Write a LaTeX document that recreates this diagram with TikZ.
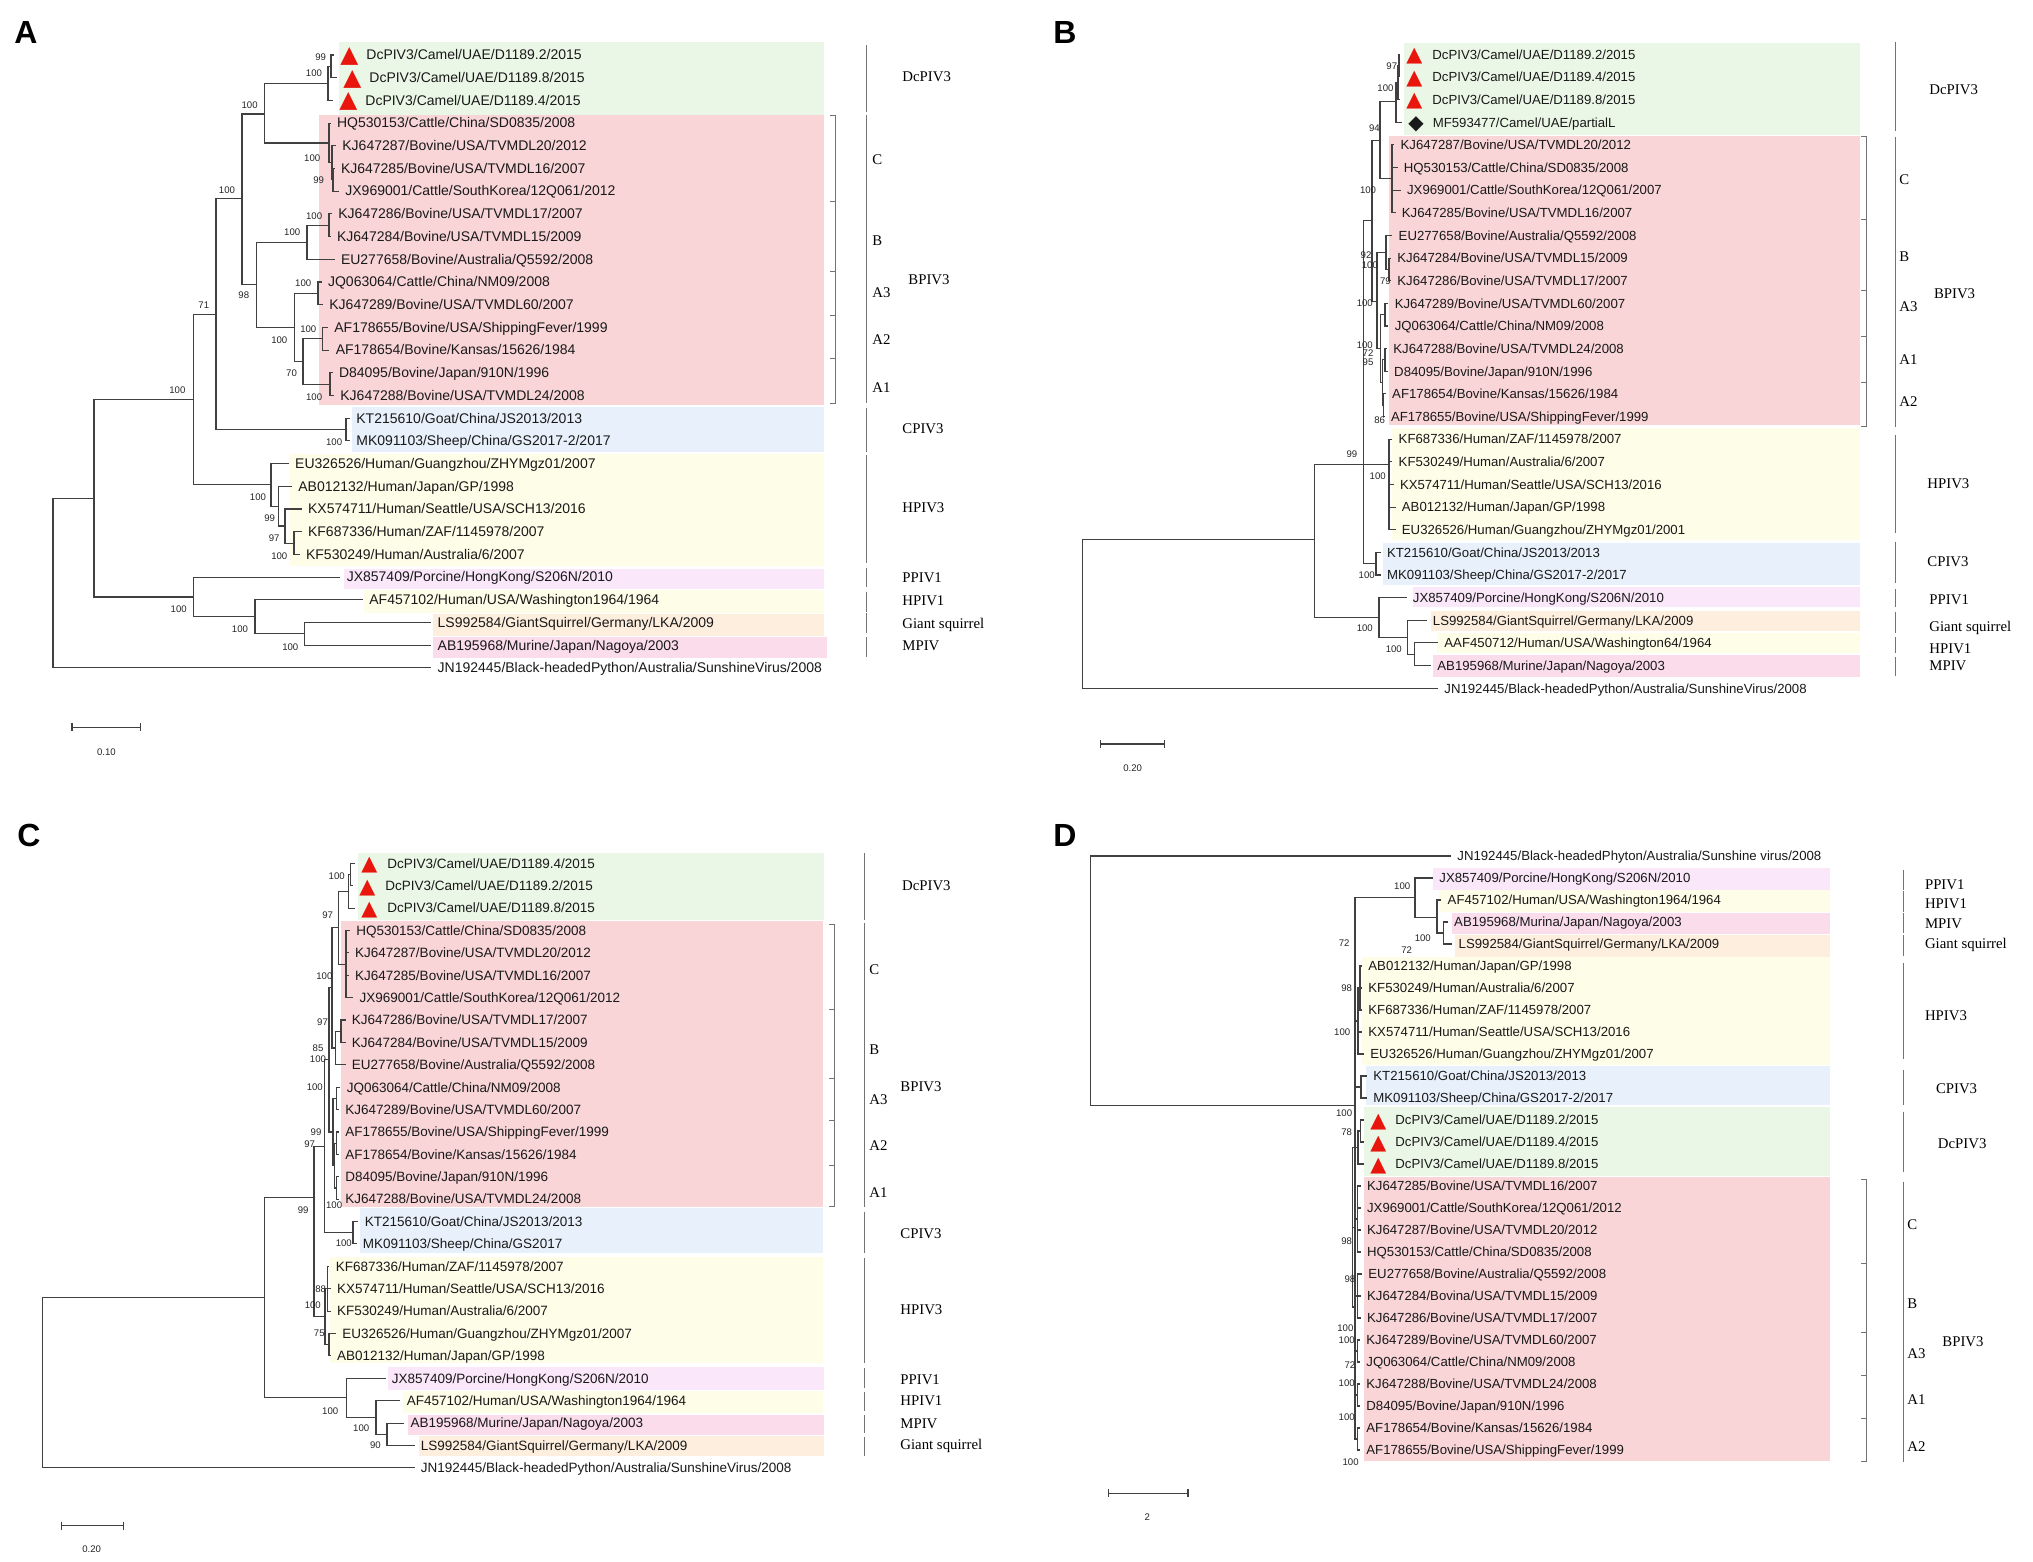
\documentclass[tikz,border=0pt]{standalone}
\usepackage{fontspec}
\setmainfont{Liberation Serif}
\newfontfamily\lsans{Liberation Sans}
\newfontfamily\dejavu{DejaVu Sans}
\definecolor{bxgreen}{RGB}{235,247,230}
\definecolor{bxred}{RGB}{249,213,215}
\definecolor{bxblue}{RGB}{232,241,251}
\definecolor{bxyellow}{RGB}{254,253,232}
\definecolor{bxlilac}{RGB}{250,231,250}
\definecolor{bxorange}{RGB}{253,238,222}
\definecolor{bxpink}{RGB}{250,220,234}
\definecolor{mkred}{RGB}{232,22,12}
\newcommand\trimk[2]{{\dejavu\fontsize{#1}{#1}\selectfont\color{mkred}\raisebox{-1.3pt}{▲}}\hspace{#2}}
\newcommand\dimk[2]{{\dejavu\fontsize{#1}{#1}\selectfont\raisebox{-1.3pt}{◆}}\hspace{#2}}
\tikzset{br/.style={draw=black!75, line width=0.55pt},
	gl/.style={draw=black!55, line width=0.5pt},
	bnode/.style={inner sep=0pt, outer sep=0pt, minimum size=0pt},
	leaf/.style={anchor=west, inner xsep=3pt, inner ysep=0pt, text height=4.8pt, text depth=0pt, text=black!90, font=\lsans\fontsize{#1}{#1}\selectfont},
	leaf/.default=7,
	boot/.style={inner sep=0pt, text=black!85, font=\lsans\fontsize{4.8}{4.8}\selectfont},
	clade/.style={anchor=west, inner sep=0pt, text height=4.9pt, text depth=0pt, font=\fontsize{7.4}{7.4}\selectfont},
	letter/.style={inner sep=0pt, font=\lsans\bfseries\fontsize{16}{16}\selectfont}}

\begin{document}
\begin{tikzpicture}[x=0.5pt,y=-0.5pt]
\useasboundingbox (0,0) rectangle (2033,1562);
\fill[white] (0,0) rectangle (2033,1562);

\foreach \xa/\ya/\xb/\yb/\c in {339/41.7/824/115/bxgreen, 319/115/824/405/bxred, 351.5/407.3/824/452.3/bxblue, 290/454.3/824/566/bxyellow, 343.8/569.3/824/589.3/bxlilac, 364.4/590/824/612.7/bxyellow, 433.4/614/824/636/bxorange, 433.4/636.7/827/657.7/bxpink,
  1403.5/43.3/1859.5/135/bxgreen, 1389.3/135.7/1859.5/425/bxred, 1391.8/428.3/1859.5/540/bxyellow, 1382.8/542.7/1859.5/585/bxblue, 1413/587.3/1859.5/607.3/bxlilac, 1430.5/610.7/1859.5/630.7/bxorange, 1437/632.7/1859.5/653.3/bxyellow, 1432.5/655/1859.5/676.7/bxpink,
  358/853.3/824/920/bxgreen, 341/921/823/1206.7/bxred, 360/1207.7/823/1253.3/bxblue, 330/1257.3/823/1363.3/bxyellow, 388/1366.7/824/1390/bxlilac, 403/1390.7/823/1412.7/bxyellow, 407.6/1415/824/1435/bxpink, 419/1436/824/1456/bxorange,
  1432.5/868.3/1830.4/890/bxlilac, 1439/890/1830.4/911.7/bxyellow, 1451.8/912.7/1830.4/934/bxpink, 1455/935/1830.4/956.7/bxorange, 1361.5/957.3/1830.4/1065/bxyellow, 1366/1065.7/1830.4/1105/bxblue, 1363.5/1106.7/1830.4/1176/bxgreen, 1363.5/1176.7/1830.4/1460.7/bxred}
  \fill[\c] (\xa,\ya) rectangle (\xb,\yb);

\node[letter] (labA) at (26,32) {A};
\node[letter] (labB) at (1065,32) {B};
\node[letter] (labC) at (29,835) {C};
\node[letter] (labD) at (1065,835) {D};

\begin{scope}[yshift=-16.15pt,y=-11.35pt]
\node[bnode] (aR) at (53,24.26) {};
\node[bnode] (aI) at (94,20.53) {};
\node[bnode] (aB1) at (193.5,16.18) {};
\node[bnode] (a71) at (216,12.42) {};
\node[bnode] (a100) at (242,7.34) {};
\node[bnode] (aDC) at (264.5,3.6) {};
\node[bnode] (aD) at (328,2.25) {};
\node[bnode] (aD12) at (331,1.5) {};
\node[bnode] (aC) at (329,4.875) {};
\node[bnode] (aC2) at (332,5.75) {};
\node[bnode] (aC3) at (333,6.5) {};
\node[bnode] (a98) at (256.7,11.125) {};
\node[bnode] (aB) at (307,9.25) {};
\node[bnode] (aB2) at (329,8.5) {};
\node[bnode] (aA) at (294.8,13) {};
\node[bnode] (aA3) at (318,11.5) {};
\node[bnode] (aA12) at (303,14.5) {};
\node[bnode] (aA2) at (322.5,13.5) {};
\node[bnode] (aA1) at (330,15.5) {};
\node[bnode] (aCP) at (346,17.5) {};
\node[bnode] (aH) at (271,19.94) {};
\node[bnode] (aH2) at (278.6,20.875) {};
\node[bnode] (aH3) at (285,21.75) {};
\node[bnode] (aH4) at (294,22.5) {};
\node[bnode] (aP) at (193.5,24.875) {};
\node[bnode] (aH1) at (255,25.75) {};
\node[bnode] (aGS) at (304.4,26.5) {};
\node[leaf=7] (a1) at (334,1) {\trimk{11.7}{4pt}DcPIV3/Camel/UAE/D1189.2/2015};
\node[leaf=7] (a2) at (337,2) {\trimk{11.7}{4pt}DcPIV3/Camel/UAE/D1189.8/2015};
\node[leaf=7] (a3) at (333,3) {\trimk{11.7}{4pt}DcPIV3/Camel/UAE/D1189.4/2015};
\node[leaf=7] (a4) at (330.7,4) {HQ530153/Cattle/China/SD0835/2008};
\node[leaf=7] (a5) at (336,5) {KJ647287/Bovine/USA/TVMDL20/2012};
\node[leaf=7] (a6) at (334.6,6) {KJ647285/Bovine/USA/TVMDL16/2007};
\node[leaf=7] (a7) at (339,7) {JX969001/Cattle/SouthKorea/12Q061/2012};
\node[leaf=7] (a8) at (332,8) {KJ647286/Bovine/USA/TVMDL17/2007};
\node[leaf=7] (a9) at (330.7,9) {KJ647284/Bovine/USA/TVMDL15/2009};
\node[leaf=7] (a10) at (334.6,10) {EU277658/Bovine/Australia/Q5592/2008};
\node[leaf=7] (a11) at (321.7,11) {JQ063064/Cattle/China/NM09/2008};
\node[leaf=7] (a12) at (323,12) {KJ647289/Bovine/USA/TVMDL60/2007};
\node[leaf=7] (a13) at (328,13) {AF178655/Bovine/USA/ShippingFever/1999};
\node[leaf=7] (a14) at (329.4,14) {AF178654/Bovine/Kansas/15626/1984};
\node[leaf=7] (a15) at (332.6,15) {D84095/Bovine/Japan/910N/1996};
\node[leaf=7] (a16) at (334,16) {KJ647288/Bovine/USA/TVMDL24/2008};
\node[leaf=7] (a17) at (350,17) {KT215610/Goat/China/JS2013/2013};
\node[leaf=7] (a18) at (350,18) {MK091103/Sheep/China/GS2017-2/2017};
\node[leaf=7] (a19) at (288.8,19) {EU326526/Human/Guangzhou/ZHYMgz01/2007};
\node[leaf=7] (a20) at (292,20) {AB012132/Human/Japan/GP/1998};
\node[leaf=7] (a21) at (301.7,21) {KX574711/Human/Seattle/USA/SCH13/2016};
\node[leaf=7] (a22) at (301.7,22) {KF687336/Human/ZAF/1145978/2007};
\node[leaf=7] (a23) at (299.7,23) {KF530249/Human/Australia/6/2007};
\node[leaf=7] (a24) at (340.4,24) {JX857409/Porcine/HongKong/S206N/2010};
\node[leaf=7] (a25) at (363,25) {AF457102/Human/USA/Washington1964/1964};
\node[leaf=7] (a26) at (431.3,26) {LS992584/GiantSquirrel/Germany/LKA/2009};
\node[leaf=7] (a27) at (431.3,27) {AB195968/Murine/Japan/Nagoya/2003};
\node[leaf=7] (a28) at (431.3,28) {JN192445/Black-headedPython/Australia/SunshineVirus/2008};
\foreach \p/\c in {aR/aI, aR/a28, aI/aB1, aI/aP, aB1/a71, aB1/aH, a71/a100, a71/aCP, a100/aDC, a100/a98,
  aDC/aD, aDC/aC, aD/aD12, aD/a3, aD12/a1, aD12/a2, aC/a4, aC/aC2, aC2/a5, aC2/aC3, aC3/a6, aC3/a7,
  a98/aB, a98/aA, aB/aB2, aB/a10, aB2/a8, aB2/a9, aA/aA3, aA/aA12, aA3/a11, aA3/a12,
  aA12/aA2, aA12/aA1, aA2/a13, aA2/a14, aA1/a15, aA1/a16, aCP/a17, aCP/a18,
  aH/a19, aH/aH2, aH2/a20, aH2/aH3, aH3/a21, aH3/aH4, aH4/a22, aH4/a23,
  aP/a24, aP/aH1, aH1/a25, aH1/aGS, aGS/a26, aGS/a27}
  \draw[br] (\p) |- (\c.west);
\end{scope}

\begin{scope}[yshift=-15.83pt,y=-11.32pt]
\node[bnode] (bR) at (1082.9,25) {};
\node[bnode] (bI) at (1314.4,22.45) {};
\node[bnode] (b99) at (1363.5,19.11) {};
\node[bnode] (bU) at (1372,8.35) {};
\node[bnode] (b94) at (1380,4.8) {};
\node[bnode] (bD) at (1396,3.1) {};
\node[bnode] (bD123) at (1398,2.25) {};
\node[bnode] (bD12) at (1399,1.5) {};
\node[bnode] (bC) at (1392,6.5) {};
\node[bnode] (bBA) at (1377,11.9) {};
\node[bnode] (bB) at (1386,9.75) {};
\node[bnode] (bB11) at (1389,10.5) {};
\node[bnode] (bA) at (1380.5,14) {};
\node[bnode] (bA3) at (1385,12.5) {};
\node[bnode] (bA12) at (1382.5,15.5) {};
\node[bnode] (bA1) at (1385,14.5) {};
\node[bnode] (bA2) at (1383.5,16.5) {};
\node[bnode] (bH3) at (1389,19.11) {};
\node[bnode] (bCP) at (1376,23.5) {};
\node[bnode] (bP) at (1379,25.875) {};
\node[bnode] (bSQ) at (1407.3,26.75) {};
\node[bnode] (bHM) at (1414.4,27.5) {};
\node[leaf=6.6] (b1) at (1400,1) {\trimk{10.4}{5pt}DcPIV3/Camel/UAE/D1189.2/2015};
\node[leaf=6.6] (b2) at (1400,2) {\trimk{10.4}{5pt}DcPIV3/Camel/UAE/D1189.4/2015};
\node[leaf=6.6] (b3) at (1400,3) {\trimk{10.4}{5pt}DcPIV3/Camel/UAE/D1189.8/2015};
\node[leaf=6.6] (b4) at (1402,4) {\dimk{10}{4.5pt}MF593477/Camel/UAE/partialL};
\node[leaf=6.6] (b5) at (1394.2,5) {KJ647287/Bovine/USA/TVMDL20/2012};
\node[leaf=6.6] (b6) at (1397.5,6) {HQ530153/Cattle/China/SD0835/2008};
\node[leaf=6.6] (b7) at (1400.7,7) {JX969001/Cattle/SouthKorea/12Q061/2007};
\node[leaf=6.6] (b8) at (1395.5,8) {KJ647285/Bovine/USA/TVMDL16/2007};
\node[leaf=6.6] (b9) at (1392.3,9) {EU277658/Bovine/Australia/Q5592/2008};
\node[leaf=6.6] (b10) at (1391,10) {KJ647284/Bovine/USA/TVMDL15/2009};
\node[leaf=6.6] (b11) at (1391,11) {KJ647286/Bovine/USA/TVMDL17/2007};
\node[leaf=6.6] (b12) at (1388.4,12) {KJ647289/Bovine/USA/TVMDL60/2007};
\node[leaf=6.6] (b13) at (1388.4,13) {JQ063064/Cattle/China/NM09/2008};
\node[leaf=6.6] (b14) at (1387,14) {KJ647288/Bovine/USA/TVMDL24/2008};
\node[leaf=6.6] (b15) at (1387.8,15) {D84095/Bovine/Japan/910N/1996};
\node[leaf=6.6] (b16) at (1385.8,16) {AF178654/Bovine/Kansas/15626/1984};
\node[leaf=6.6] (b17) at (1384.6,17) {AF178655/Bovine/USA/ShippingFever/1999};
\node[leaf=6.6] (b18) at (1392.3,18) {KF687336/Human/ZAF/1145978/2007};
\node[leaf=6.6] (b19) at (1392.3,19) {KF530249/Human/Australia/6/2007};
\node[leaf=6.6] (b20) at (1393.6,20) {KX574711/Human/Seattle/USA/SCH13/2016};
\node[leaf=6.6] (b21) at (1395.5,21) {AB012132/Human/Japan/GP/1998};
\node[leaf=6.6] (b22) at (1395.5,22) {EU326526/Human/Guangzhou/ZHYMgz01/2001};
\node[leaf=6.6] (b23) at (1380.7,23) {KT215610/Goat/China/JS2013/2013};
\node[leaf=6.6] (b24) at (1380.7,24) {MK091103/Sheep/China/GS2017-2/2017};
\node[leaf=6.6] (b25) at (1406.5,25) {JX857409/Porcine/HongKong/S206N/2010};
\node[leaf=6.6] (b26) at (1426.5,26) {LS992584/GiantSquirrel/Germany/LKA/2009};
\node[leaf=6.6] (b27) at (1438,27) {AAF450712/Human/USA/Washington64/1964};
\node[leaf=6.6] (b28) at (1431,28) {AB195968/Murine/Japan/Nagoya/2003};
\node[leaf=6.6] (b29) at (1438,29) {JN192445/Black-headedPython/Australia/SunshineVirus/2008};
\foreach \p/\c in {bR/bI, bR/b29, bI/b99, bI/bP, b99/bU, b99/bH3, b99/bCP, bU/b94, bU/bBA,
  b94/bD, b94/bC, bD/bD123, bD/b4, bD123/bD12, bD123/b3, bD12/b1, bD12/b2, bC/b5, bC/b6, bC/b7, bC/b8,
  bBA/bB, bBA/bA, bB/b9, bB/bB11, bB11/b10, bB11/b11, bA/bA3, bA/bA12, bA3/b12, bA3/b13,
  bA12/bA1, bA12/bA2, bA1/b14, bA1/b15, bA2/b16, bA2/b17,
  bH3/b18, bH3/b19, bH3/b20, bH3/b21, bH3/b22, bCP/b23, bCP/b24,
  bP/b25, bP/bSQ, bSQ/b26, bSQ/bHM, bHM/b27, bHM/b28}
  \draw[br] (\p) |- (\c.west);
\end{scope}

\begin{scope}[yshift=-420.455pt,y=-11.195pt]
\node[bnode] (cR) at (42.6,24) {};
\node[bnode] (cI) at (264.5,20.39) {};
\node[bnode] (c99) at (314,15.91) {};
\node[bnode] (c97) at (324.4,13.64) {};
\node[bnode] (cBP) at (329,9.78) {};
\node[bnode] (c100) at (332,6.56) {};
\node[bnode] (cDC) at (338.6,3.875) {};
\node[bnode] (cD) at (348.3,2.25) {};
\node[bnode] (cD12) at (350.5,1.5) {};
\node[bnode] (cC) at (346,5.5) {};
\node[bnode] (cB) at (335.4,9.25) {};
\node[bnode] (cB89) at (341,8.5) {};
\node[bnode] (cA) at (333,13) {};
\node[bnode] (cA3) at (336.5,11.5) {};
\node[bnode] (cA21) at (334.5,14.5) {};
\node[bnode] (cA2) at (336.5,13.5) {};
\node[bnode] (cA1) at (336.5,15.5) {};
\node[bnode] (cCP) at (353,17.5) {};
\node[bnode] (cH) at (325,21.25) {};
\node[bnode] (cH1) at (327.5,20) {};
\node[bnode] (cH2) at (329,22.5) {};
\node[bnode] (cP) at (346.4,24.87) {};
\node[bnode] (cQ) at (376,25.75) {};
\node[bnode] (cGS) at (387,26.5) {};
\node[leaf=6.75] (c1) at (355,1) {\trimk{10.4}{5pt}DcPIV3/Camel/UAE/D1189.4/2015};
\node[leaf=6.75] (c2) at (353,2) {\trimk{10.4}{5pt}DcPIV3/Camel/UAE/D1189.2/2015};
\node[leaf=6.75] (c3) at (355,3) {\trimk{10.4}{5pt}DcPIV3/Camel/UAE/D1189.8/2015};
\node[leaf=6.75] (c4) at (350,4) {HQ530153/Cattle/China/SD0835/2008};
\node[leaf=6.75] (c5) at (348.8,5) {KJ647287/Bovine/USA/TVMDL20/2012};
\node[leaf=6.75] (c6) at (348.8,6) {KJ647285/Bovine/USA/TVMDL16/2007};
\node[leaf=6.75] (c7) at (353.3,7) {JX969001/Cattle/SouthKorea/12Q061/2012};
\node[leaf=6.75] (c8) at (345.5,8) {KJ647286/Bovine/USA/TVMDL17/2007};
\node[leaf=6.75] (c9) at (345.5,9) {KJ647284/Bovine/USA/TVMDL15/2009};
\node[leaf=6.75] (c10) at (345.5,10) {EU277658/Bovine/Australia/Q5592/2008};
\node[leaf=6.75] (c11) at (340.4,11) {JQ063064/Cattle/China/NM09/2008};
\node[leaf=6.75] (c12) at (339,12) {KJ647289/Bovine/USA/TVMDL60/2007};
\node[leaf=6.75] (c13) at (339,13) {AF178655/Bovine/USA/ShippingFever/1999};
\node[leaf=6.75] (c14) at (339,14) {AF178654/Bovine/Kansas/15626/1984};
\node[leaf=6.75] (c15) at (339,15) {D84095/Bovine/Japan/910N/1996};
\node[leaf=6.75] (c16) at (339,16) {KJ647288/Bovine/USA/TVMDL24/2008};
\node[leaf=6.75] (c17) at (358.4,17) {KT215610/Goat/China/JS2013/2013};
\node[leaf=6.75] (c18) at (356.5,18) {MK091103/Sheep/China/GS2017};
\node[leaf=6.75] (c19) at (329.4,19) {KF687336/Human/ZAF/1145978/2007};
\node[leaf=6.75] (c20) at (330.7,20) {KX574711/Human/Seattle/USA/SCH13/2016};
\node[leaf=6.75] (c21) at (330.7,21) {KF530249/Human/Australia/6/2007};
\node[leaf=6.75] (c22) at (335.9,22) {EU326526/Human/Guangzhou/ZHYMgz01/2007};
\node[leaf=6.75] (c23) at (330.7,23) {AB012132/Human/Japan/GP/1998};
\node[leaf=6.75] (c24) at (385.5,24) {JX857409/Porcine/HongKong/S206N/2010};
\node[leaf=6.75] (c25) at (400.4,25) {AF457102/Human/USA/Washington1964/1964};
\node[leaf=6.75] (c26) at (404.2,26) {AB195968/Murine/Japan/Nagoya/2003};
\node[leaf=6.75] (c27) at (414.5,27) {LS992584/GiantSquirrel/Germany/LKA/2009};
\node[leaf=6.75] (c28) at (414.5,28) {JN192445/Black-headedPython/Australia/SunshineVirus/2008};
\foreach \p/\c in {cR/cI, cR/c28, cI/c99, cI/cP, c99/c97, c99/cH, c97/cBP, c97/cCP, cBP/c100, cBP/cA,
  c100/cDC, c100/cB, cDC/cD, cDC/cC, cD/cD12, cD/c3, cD12/c1, cD12/c2, cC/c4, cC/c5, cC/c6, cC/c7,
  cB/cB89, cB/c10, cB89/c8, cB89/c9, cA/cA3, cA/cA21, cA3/c11, cA3/c12,
  cA21/cA2, cA21/cA1, cA2/c13, cA2/c14, cA1/c15, cA1/c16, cCP/c17, cCP/c18,
  cH/cH1, cH/cH2, cH1/c19, cH1/c20, cH1/c21, cH2/c22, cH2/c23,
  cP/c24, cP/cQ, cQ/c25, cQ/cGS, cGS/c26, cGS/c27}
  \draw[br] (\p) |- (\c.west);
\end{scope}

\begin{scope}[yshift=-417pt,y=-11pt]
\node[bnode] (dR) at (1090.6,6) {};
\node[bnode] (dI) at (1355,12.36) {};
\node[bnode] (dP) at (1415,2.89) {};
\node[bnode] (dH1) at (1437,3.79) {};
\node[bnode] (dMG) at (1443.4,4.5) {};
\node[bnode] (dH3) at (1358,8.5) {};
\node[bnode] (dH3a) at (1360,7) {};
\node[bnode] (dCP) at (1361,11.5) {};
\node[bnode] (dDB) at (1352.5,17.9) {};
\node[bnode] (dD) at (1358,14.25) {};
\node[bnode] (dD12) at (1360.5,13.5) {};
\node[bnode] (dBP) at (1355,21.5) {};
\node[bnode] (dC) at (1357.5,17.5) {};
\node[bnode] (dB) at (1357.5,21) {};
\node[bnode] (dA3) at (1357.5,23.5) {};
\node[bnode] (dA1) at (1357.5,25.5) {};
\node[bnode] (dA2) at (1357.5,27.5) {};
\node[leaf=6.6] (d1) at (1451,1) {JN192445/Black-headedPhyton/Australia/Sunshine virus/2008};
\node[leaf=6.6] (d2) at (1433,2) {JX857409/Porcine/HongKong/S206N/2010};
\node[leaf=6.6] (d3) at (1441.3,3) {AF457102/Human/USA/Washington1964/1964};
\node[leaf=6.6] (d4) at (1447.8,4) {AB195968/Murina/Japan/Nagoya/2003};
\node[leaf=6.6] (d5) at (1452.3,5) {LS992584/GiantSquirrel/Germany/LKA/2009};
\node[leaf=6.6] (d6) at (1362,6) {AB012132/Human/Japan/GP/1998};
\node[leaf=6.6] (d7) at (1362,7) {KF530249/Human/Australia/6/2007};
\node[leaf=6.6] (d8) at (1362,8) {KF687336/Human/ZAF/1145978/2007};
\node[leaf=6.6] (d9) at (1362,9) {KX574711/Human/Seattle/USA/SCH13/2016};
\node[leaf=6.6] (d10) at (1364,10) {EU326526/Human/Guangzhou/ZHYMgz01/2007};
\node[leaf=6.6] (d11) at (1367,11) {KT215610/Goat/China/JS2013/2013};
\node[leaf=6.6] (d12) at (1367,12) {MK091103/Sheep/China/GS2017-2/2017};
\node[leaf=6.6] (d13) at (1364,13) {\trimk{10.4}{4.5pt}DcPIV3/Camel/UAE/D1189.2/2015};
\node[leaf=6.6] (d14) at (1364,14) {\trimk{10.4}{4.5pt}DcPIV3/Camel/UAE/D1189.4/2015};
\node[leaf=6.6] (d15) at (1364,15) {\trimk{10.4}{4.5pt}DcPIV3/Camel/UAE/D1189.8/2015};
\node[leaf=6.6] (d16) at (1360.7,16) {KJ647285/Bovine/USA/TVMDL16/2007};
\node[leaf=6.6] (d17) at (1360.7,17) {JX969001/Cattle/SouthKorea/12Q061/2012};
\node[leaf=6.6] (d18) at (1360.7,18) {KJ647287/Bovine/USA/TVMDL20/2012};
\node[leaf=6.6] (d19) at (1360.7,19) {HQ530153/Cattle/China/SD0835/2008};
\node[leaf=6.6] (d20) at (1362,20) {EU277658/Bovine/Australia/Q5592/2008};
\node[leaf=6.6] (d21) at (1360.7,21) {KJ647284/Bovina/USA/TVMDL15/2009};
\node[leaf=6.6] (d22) at (1360.7,22) {KJ647286/Bovine/USA/TVMDL17/2007};
\node[leaf=6.6] (d23) at (1360,23) {KJ647289/Bovine/USA/TVMDL60/2007};
\node[leaf=6.6] (d24) at (1360,24) {JQ063064/Cattle/China/NM09/2008};
\node[leaf=6.6] (d25) at (1360,25) {KJ647288/Bovine/USA/TVMDL24/2008};
\node[leaf=6.6] (d26) at (1360,26) {D84095/Bovine/Japan/910N/1996};
\node[leaf=6.6] (d27) at (1360,27) {AF178654/Bovine/Kansas/15626/1984};
\node[leaf=6.6] (d28) at (1360,28) {AF178655/Bovine/USA/ShippingFever/1999};
\foreach \p/\c in {dR/d1, dR/dI, dI/dP, dI/dH3, dI/dCP, dI/dDB, dP/d2, dP/dH1, dH1/d3, dH1/dMG, dMG/d4, dMG/d5,
  dH3/dH3a, dH3/d9, dH3/d10, dH3a/d6, dH3a/d7, dH3a/d8, dCP/d11, dCP/d12,
  dDB/dD, dDB/dBP, dD/dD12, dD/d15, dD12/d13, dD12/d14,
  dBP/dC, dBP/dB, dBP/dA3, dBP/dA1, dBP/dA2, dC/d16, dC/d17, dC/d18, dC/d19,
  dB/d20, dB/d21, dB/d22, dA3/d23, dA3/d24, dA1/d25, dA1/d26, dA2/d27, dA2/d28}
  \draw[br] (\p) |- (\c.west);
\end{scope}

\foreach \x/\y/\t [count=\i] in {320.6/56.7/99, 314/73.3/100, 249.6/105.3/100, 312.2/157.7/100, 318.6/180.3/99, 227/190/100, 314.1/215.7/100, 292.2/232.3/100, 303.2/283.3/100, 243.8/295/98, 203.8/305/71, 308.3/329/100, 279.3/340/100, 291.5/373.3/70, 177.4/390/100, 314.1/396.7/100, 334.1/441.7/100, 258/496.7/100, 269.6/518.3/99, 274.1/538.3/97, 279.3/555.7/100, 178.7/609.3/100, 240/629.3/100, 290.3/646.7/100}
  \node[boot] (aL\i) at (\x,\y) {\t};
\foreach \x/\y/\t [count=\i] in {1391.8/66/97, 1385.4/88.3/100, 1374.4/127.7/94, 1368/190/100, 1366/255/92, 1369.9/265/100, 1385.4/281/79, 1364.8/303.3/100, 1364.8/345/100, 1368/353.3/72, 1368/361.7/95, 1379.6/420/86, 1351.9/454.3/99, 1377.7/476/100, 1366.7/575/100, 1364.8/628.3/100, 1393.8/649/100}
  \node[boot] (bL\i) at (\x,\y) {\t};
\foreach \x/\y/\t [count=\i] in {336.7/876/100, 327.7/915/97, 324.4/976/100, 322.5/1021.7/97, 318/1048.3/85, 318/1059.3/100, 314.8/1087.3/100, 316/1131.7/99, 309.6/1144/97, 334.1/1205/100, 303.2/1210/99, 343.8/1243.3/100, 320.6/1289/88, 312.8/1305.3/100, 319.3/1333.3/75, 330.2/1410.7/100, 361.2/1428.3/100, 375.4/1445/90}
  \node[boot] (cL\i) at (\x,\y) {\t};
\foreach \x/\y/\t [count=\i] in {1402.2/886/100, 1422.8/938.3/100, 1406.7/950/72, 1344.1/942.7/72, 1346.7/988.3/98, 1342.2/1032.3/100, 1344.1/1113.3/100, 1346.7/1131.7/78, 1346.7/1241/98, 1349.9/1279.3/98, 1345.4/1328.3/100, 1346.7/1340/100, 1349.9/1365/72, 1346.7/1383.3/100, 1346.7/1417.3/100, 1350.6/1461.7/100}
  \node[boot] (dL\i) at (\x,\y) {\t};

\foreach \ya/\yb in {45/111.7, 115/403.3, 408.3/451.7, 455/563.3, 568.3/587.3, 591.7/611.7, 613.3/633.3, 636.7/656.7}
  \draw[gl] (866,\ya) -- (866,\yb);
\foreach \ya/\yb in {41.7/130.7, 136.7/426.7, 435/533.3, 541.7/583.3, 589.3/606.7, 611.7/633.3, 636.7/652.7, 657.3/676}
  \draw[gl] (1895,\ya) -- (1895,\yb);
\foreach \ya/\yb in {853.3/920, 923.3/1206.7, 1211.7/1253.3, 1258.3/1363.3, 1368.3/1388.3, 1391.7/1410.7, 1415/1433.3, 1436.7/1456}
  \draw[gl] (864.3,\ya) -- (864.3,\yb);
\foreach \ya/\yb in {870/890, 890.7/911.7, 913.3/933.3, 935/956, 963.3/1059.3, 1070/1105, 1111.7/1171.7, 1181.7/1461.7}
  \draw[gl] (1903.3,\ya) -- (1903.3,\yb);

\draw[gl] (830,116) -- (835,116) -- (835,403.3) -- (830,403.3);
\foreach \y in {201.7,271.7,315,358.3} \draw[gl] (830,\y) -- (835,\y);
\draw[gl] (1861,136.7) -- (1866,136.7) -- (1866,426.7) -- (1861,426.7);
\foreach \y in {220,290,336.7,382.7} \draw[gl] (1861,\y) -- (1866,\y);
\draw[gl] (829,924) -- (834,924) -- (834,1206.7) -- (829,1206.7);
\foreach \y in {1009.3,1078.3,1120.7,1165} \draw[gl] (829,\y) -- (834,\y);
\draw[gl] (1861,1179.3) -- (1866,1179.3) -- (1866,1461.7) -- (1861,1461.7);
\foreach \y in {1263.3,1332.7,1375,1418.3} \draw[gl] (1861,\y) -- (1866,\y);

\foreach \x/\y/\t [count=\i] in {872/160/C, 872/240.7/B, 872/292.7/A3, 872/340/A2, 872/387.3/A1,
  902/76.7/DcPIV3, 908/280/BPIV3, 902/429/CPIV3, 902/507.7/HPIV3, 902/577.3/PPIV1, 902/600.7/HPIV1, 902/623.3/Giant squirrel, 902/646/MPIV}
  \node[clade] (aG\i) at (\x,\y) {\t};
\foreach \x/\y/\t [count=\i] in {1899/180/C, 1899/256.7/B, 1899/306.7/A3, 1899/360/A1, 1899/401.7/A2,
  1929/90/DcPIV3, 1933.6/294/BPIV3, 1927/483.3/HPIV3, 1927/561.7/CPIV3, 1929/599.3/PPIV1, 1929/626.7/Giant squirrel, 1929/648.3/HPIV1, 1929/666/MPIV}
  \node[clade] (bG\i) at (\x,\y) {\t};
\foreach \x/\y/\t [count=\i] in {869/969.3/C, 869/1049.3/B, 869/1099.3/A3, 869/1146/A2, 869/1192.7/A1,
  901.7/886/DcPIV3, 900/1086.7/BPIV3, 900/1233.3/CPIV3, 900/1309.3/HPIV3, 900/1380/PPIV1, 900/1400.7/HPIV1, 900/1424/MPIV, 900/1445/Giant squirrel}
  \node[clade] (cG\i) at (\x,\y) {\t};
\foreach \x/\y/\t [count=\i] in {1907/1225/C, 1907/1303.3/B, 1907/1353.3/A3, 1907/1400/A1, 1907/1446.7/A2,
  1924.6/885/PPIV1, 1924.6/903.3/HPIV1, 1924.6/923.3/MPIV, 1924.6/944/Giant squirrel, 1924.6/1016/HPIV3, 1935.6/1088.3/CPIV3, 1937.5/1144/DcPIV3, 1942/1341.7/BPIV3}
  \node[clade] (dG\i) at (\x,\y) {\t};

\foreach \xa/\xb/\y [count=\i] in {72/140.6/727.3, 1100.3/1164.8/744, 61.3/123.8/1525.7, 1108.7/1188/1493.3}
  \draw[br] (\xa,\y-4) -- (\xa,\y+4) (\xa,\y) -- (\xb,\y) (\xb,\y-4) -- (\xb,\y+4);
\node[boot] (sA) at (106.4,752.3) {0.10};
\node[boot] (sB) at (1132.6,767.7) {0.20};
\node[boot] (sC) at (91.6,1549.3) {0.20};
\node[boot] (sD) at (1147.4,1517.3) {2};
\end{tikzpicture}
\end{document}
